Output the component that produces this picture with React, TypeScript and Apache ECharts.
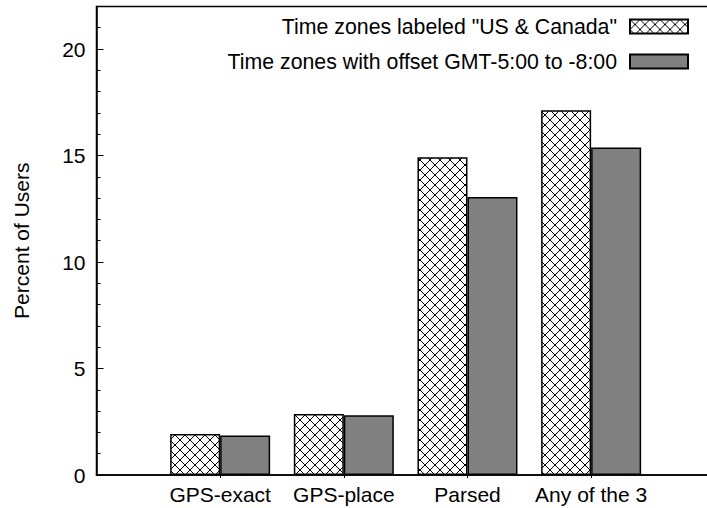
import React, { useEffect, useRef } from "react";
import * as echarts from "echarts";

const categories = ["", "GPS-exact", "GPS-place", "Parsed", "Any of the 3", ""];
const seriesNames = [
  'Time zones labeled "US & Canada"',
  "Time zones with offset GMT-5:00 to -8:00",
];
const usCanada = [null, 1.93, 2.86, 14.92, 17.12, null];
const gmtOffset = [null, 1.85, 2.81, 13.05, 15.38, null];
const yMajorTicks = [0, 5, 10, 15, 20];

function makeHatch(): HTMLCanvasElement {
  const s = 10;
  const c = document.createElement("canvas");
  c.width = s;
  c.height = s;
  const ctx = c.getContext("2d")!;
  ctx.fillStyle = "#ffffff";
  ctx.fillRect(0, 0, s, s);
  ctx.strokeStyle = "#000000";
  ctx.lineWidth = 1;
  ctx.beginPath();
  ctx.moveTo(-1, -1);
  ctx.lineTo(s + 1, s + 1);
  ctx.moveTo(s + 1, -1);
  ctx.lineTo(-1, s + 1);
  ctx.stroke();
  return c;
}

export default function App() {
  const ref = useRef<HTMLDivElement>(null);
  useEffect(() => {
    if (!ref.current) return;
    document.body.style.margin = "0";
    const chart = echarts.init(ref.current, undefined, { renderer: "svg" });
    const font = "Liberation Sans, Arial, Helvetica, sans-serif";
    const hatch = makeHatch();
    chart.setOption({
      animation: false,
      backgroundColor: "#ffffff",
      textStyle: { fontFamily: font, color: "#000" },
      grid: {
        left: 96.5,
        width: 618.3,
        top: 6.4,
        bottom: 33,
        containLabel: false,
        outerBoundsMode: "none",
        show: true,
        borderColor: "#000",
        borderWidth: 1.5,
        backgroundColor: "transparent",
      },
      legend: {
        show: true,
        right: 18,
        top: 16,
        orient: "vertical",
        align: "right",
        padding: 0,
        itemWidth: 58,
        itemHeight: 14,
        itemGap: 14,
        icon: "rect",
        textStyle: {
          fontFamily: font,
          fontSize: 21.3,
          color: "#000",
          padding: [0, 8, 0, 0],
        },
        data: seriesNames,
      },
      xAxis: {
        type: "category",
        data: categories,
        boundaryGap: false,
        axisLine: { show: true, lineStyle: { color: "#000", width: 1.5 } },
        axisTick: {
          show: true,
          length: 3,
          lineStyle: { color: "#000" },
          interval: (i: number) => i > 0 && i < categories.length - 1,
        },
        axisLabel: {
          fontFamily: font,
          fontSize: 21,
          color: "#000",
          margin: 9,
          interval: 0,
        },
        splitLine: { show: false },
      },
      yAxis: [
        {
          type: "value",
          min: 0,
          max: 22,
          interval: 1,
          position: "left",
          axisLine: { show: true, lineStyle: { color: "#000", width: 1.5 } },
          axisTick: { show: true, inside: true, length: 4, lineStyle: { color: "#000" } },
          axisLabel: { show: false },
          splitLine: { show: false },
          name: "Percent of Users",
          nameLocation: "middle",
          nameGap: 65,
          nameTextStyle: { fontFamily: font, fontSize: 21, color: "#000" },
        },
        {
          type: "value",
          min: 0,
          max: 22,
          interval: 5,
          position: "left",
          axisLine: { show: false },
          axisTick: { show: true, inside: true, length: 7, lineStyle: { color: "#000" } },
          axisLabel: {
            fontFamily: font,
            fontSize: 21,
            color: "#000",
            margin: 11,
            formatter: (v: number) => (yMajorTicks.indexOf(v) >= 0 ? String(v) : ""),
          },
          splitLine: { show: false },
        },
      ],
      series: [
        {
          name: seriesNames[0],
          type: "bar",
          yAxisIndex: 0,
          data: usCanada,
          barWidth: 50,
          barGap: "0%",
          itemStyle: {
            color: { image: hatch, repeat: "repeat" },
            borderColor: "#000",
            borderWidth: 1.5,
          },
        },
        {
          name: seriesNames[1],
          type: "bar",
          yAxisIndex: 0,
          data: gmtOffset,
          barWidth: 50,
          barGap: "0%",
          itemStyle: {
            color: "#808080",
            borderColor: "#000",
            borderWidth: 1.5,
          },
        },
      ],
    });
    return () => chart.dispose();
  }, []);
  return <div ref={ref} style={{ width: 707, height: 508 }} />;
}
